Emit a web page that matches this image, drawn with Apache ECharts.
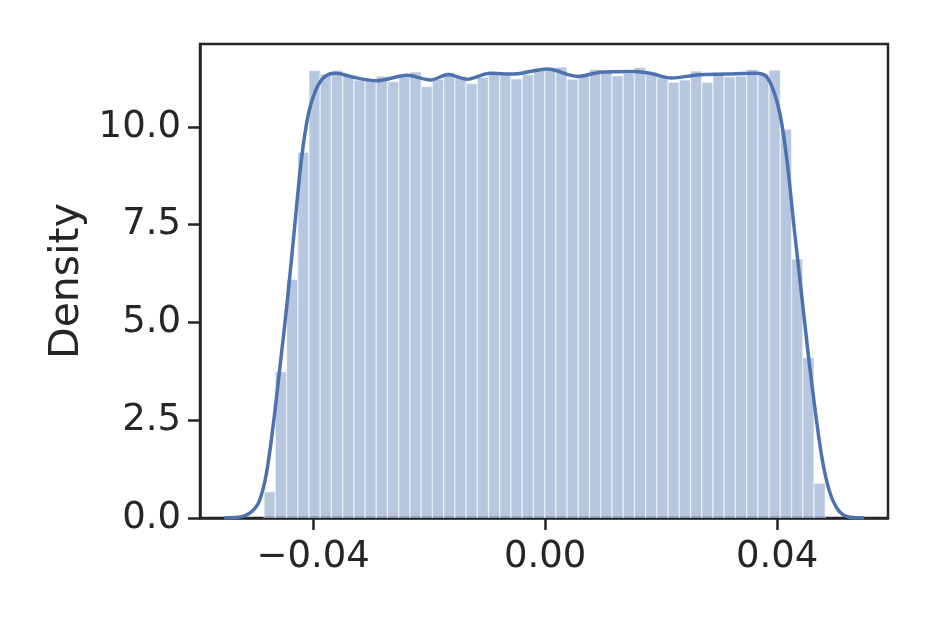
<!DOCTYPE html>
<html>
<head>
<meta charset="utf-8">
<script src="https://cdn.jsdelivr.net/npm/echarts@6/dist/echarts.min.js"></script>
<style>
  html, body { margin: 0; padding: 0; background: #fff; }
  #chart { width: 934px; height: 623px; }
</style>
</head>
<body>
<div id="chart"></div>
<script>
// histogram: 50 equal bins
const binStart = -0.04845;
const binWidth = 0.0019346;
const binHeights = [
  0.67, 3.74, 6.10, 9.35, 11.44, 11.35, 11.44, 11.30, 11.20, 11.18,
  11.30, 11.16, 11.28, 11.41, 11.03, 11.22, 11.39, 11.30, 11.11, 11.27,
  11.37, 11.33, 11.23, 11.34, 11.44, 11.45, 11.53, 11.22, 11.30, 11.47,
  11.45, 11.31, 11.37, 11.52, 11.39, 11.28, 11.14, 11.20, 11.43, 11.14,
  11.39, 11.28, 11.30, 11.47, 11.37, 11.45, 9.94, 6.62, 4.10, 0.89
];

// kde curve
const kdeX = [
  -0.05534, -0.05414, -0.05293, -0.05172, -0.05052, -0.04931, -0.04810, -0.04690,
  -0.04569, -0.04448, -0.04328, -0.04207, -0.04086, -0.03966, -0.03845, -0.03724,
  -0.03603, -0.0331, -0.0290, -0.0238, -0.0198, -0.0167, -0.0135, -0.0095,
  -0.0055, 0.0003, 0.0014, 0.0057, 0.0095, 0.0152, 0.0181, 0.0218,
  0.0262, 0.0313, 0.0365, 0.03810, 0.03931, 0.04052, 0.04172, 0.04293,
  0.04414, 0.04534, 0.04655, 0.04776, 0.04897, 0.05017, 0.05138, 0.05259,
  0.05379, 0.05500
];
const kdeY = [
  0.0, 0.005, 0.02, 0.06, 0.17, 0.42, 1.1, 2.35,
  3.9, 5.5, 7.3, 9.1, 10.3, 10.9, 11.22, 11.35,
  11.37, 11.27, 11.18, 11.32, 11.20, 11.34, 11.22, 11.37,
  11.35, 11.48, 11.46, 11.29, 11.40, 11.42, 11.37, 11.25,
  11.33, 11.35, 11.37, 11.29, 10.95, 10.3, 9.1, 7.4,
  5.8, 4.2, 2.75, 1.5, 0.7, 0.28, 0.08, 0.02,
  0.005, 0.0
];

const xTicks = [-0.04, 0, 0.04];
const yTicks = [0, 2.5, 5, 7.5, 10];

const ink = "#262626";
const blue = "#4c72b0";
const font = "DejaVu Sans";

const histData = binHeights.map((h, i) => [
  binStart + i * binWidth,
  binStart + (i + 1) * binWidth,
  h,
]);
const kdeData = kdeX.map((x, i) => [x, kdeY[i]]);

const chart = echarts.init(document.getElementById("chart"), null, { renderer: "canvas" });

chart.setOption({
  animation: false,
  backgroundColor: "#fff",
  grid: { left: 200, right: 46, top: 44, bottom: 105, show: true, borderColor: ink, borderWidth: 2.5 },
  xAxis: {
    type: "value",
    min: -0.0595,
    max: 0.0591,
    splitLine: { show: false },
    axisLine: { show: true, onZero: false, lineStyle: { color: ink, width: 2.5 } },
    axisTick: { show: true, length: 12, lineStyle: { color: ink, width: 2.5 }, customValues: xTicks },
    axisLabel: {
      color: ink, fontFamily: font, fontSize: 37, margin: 21,
      customValues: xTicks,
      formatter: (v) => v.toFixed(2).replace("-", "\u2212"),
    },
  },
  yAxis: {
    type: "value",
    min: 0,
    max: 12.12,
    name: "Density",
    nameLocation: "middle",
    nameRotate: 90,
    nameGap: 112,
    nameTextStyle: { color: ink, fontFamily: font, fontSize: 41 },
    splitLine: { show: false },
    axisLine: { show: true, onZero: false, lineStyle: { color: ink, width: 2.5 } },
    axisTick: { show: true, length: 12, lineStyle: { color: ink, width: 2.5 }, customValues: yTicks },
    axisLabel: {
      color: ink, fontFamily: font, fontSize: 37, margin: 19,
      customValues: yTicks,
      formatter: (v) => v.toFixed(1),
    },
  },
  series: [
    {
      type: "custom",
      data: histData,
      clip: true,
      renderItem(params, api) {
        const p0 = api.coord([api.value(0), api.value(2)]);
        const p1 = api.coord([api.value(1), 0]);
        return {
          type: "rect",
          shape: { x: p0[0], y: p0[1], width: p1[0] - p0[0], height: p1[1] - p0[1] },
          style: { fill: "rgba(76,114,176,0.4)", stroke: "rgba(255,255,255,0.55)", lineWidth: 1.3 },
        };
      },
      encode: { x: [0, 1], y: 2 },
      z: 1,
    },
    {
      type: "line",
      data: kdeData,
      smooth: 0.3,
      showSymbol: false,
      lineStyle: { color: blue, width: 3.5 },
      z: 2,
    },
  ],
});
</script>
</body>
</html>
